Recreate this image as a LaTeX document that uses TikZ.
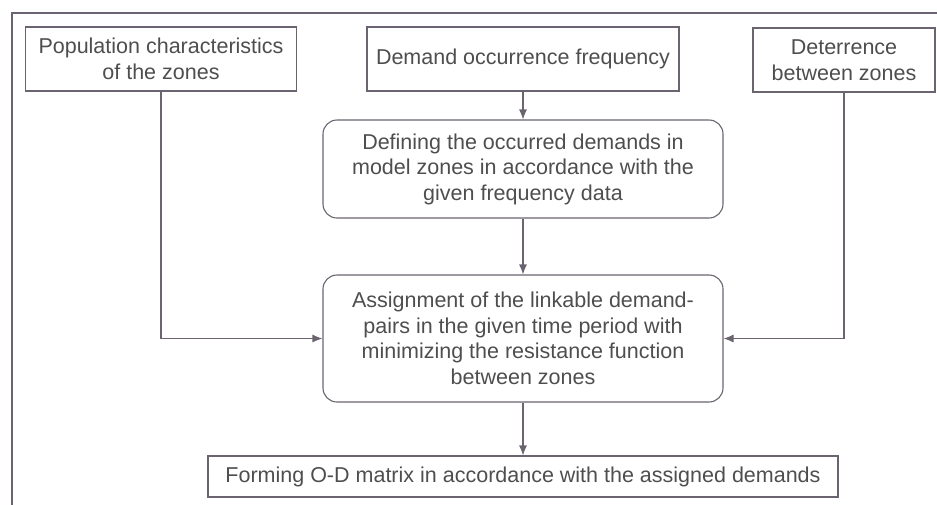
\documentclass[tikz,border=0pt]{standalone}
\usepackage{fontspec}
\setmainfont{Liberation Sans}
\usetikzlibrary{arrows.meta}
\definecolor{linegray}{HTML}{6B6470}
\definecolor{textgray}{HTML}{4E4E4E}
\tikzset{
	box/.style={draw=linegray, line width=1.1pt, text=textgray, align=center, inner sep=0pt,
		font=\fontsize{21.5}{25.5}\selectfont},
	roundbox/.style={box, rounded corners=14pt},
	flow/.style={draw=linegray, line width=1.1pt, -{Latex[length=10pt,width=8pt]}}
}
\begin{document}
\begin{tikzpicture}[x=1pt,y=-1pt]
		\useasboundingbox (0,0) rectangle (937,504);
		\clip (0,0) rectangle (937,504);
		\draw[linegray, line width=1.1pt] (12,13) rectangle (960,530);

		\node[box, minimum width=271pt, minimum height=64pt] (pop) at (161,59) {Population characteristics\\of the zones};
		\node[box, minimum width=312pt, minimum height=64pt] (freq) at (523,59) {Demand occurrence frequency};
		\node[box, minimum width=182pt, minimum height=64pt] (deter) at (844,60) {Deterrence\\between zones};

		\node[roundbox, minimum width=400pt, minimum height=98pt] (define) at (523,169) {Defining the occurred demands in\\model zones in accordance with the\\given frequency data};
		\node[roundbox, minimum width=400pt, minimum height=127pt] (assign) at (523,338.5) {Assignment of the linkable demand-\\pairs in the given time period with\\minimizing the resistance function\\between zones};
		\node[box, minimum width=630pt, minimum height=41pt] (form) at (523,476.5) {Forming O-D matrix in accordance with the assigned demands};

		\draw[flow] (freq) -- (define);
		\draw[flow] (define) -- (assign);
		\draw[flow] (assign) -- (form);
		\draw[flow] (pop.south) |- (assign.west);
		\draw[flow] (deter.south) |- (assign.east);
	\end{tikzpicture}
\end{document}
